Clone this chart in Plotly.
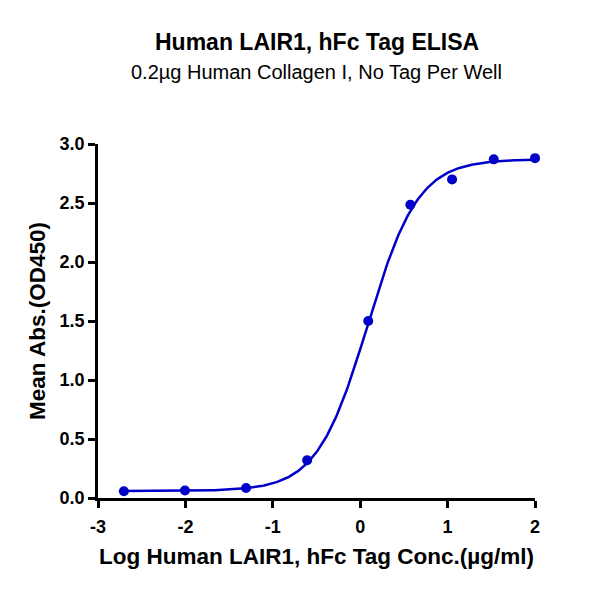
import numpy as np
import plotly.graph_objects as go

# ELISA dose-response, log concentration vs OD450
log_conc = [-2.704, -2.005, -1.306, -0.607, 0.092, 0.574, 1.051, 1.528, 2.0]
od450 = [0.057, 0.063, 0.085, 0.32, 1.50, 2.485, 2.70, 2.87, 2.88]

# 4PL fit parameters for the curve
fit_bottom = 0.06
fit_top = 2.87
fit_logec50 = 0.085
fit_hill = 1.5

x_ticks = [-3, -2, -1, 0, 1, 2]
y_ticks = [0.0, 0.5, 1.0, 1.5, 2.0, 2.5, 3.0]

blue = "#0000C8"
font = "Liberation Sans"

xfit = np.linspace(min(log_conc), max(log_conc), 300)
yfit = fit_bottom + (fit_top - fit_bottom) / (1 + 10 ** ((fit_logec50 - xfit) * fit_hill))

fig = go.Figure()
fig.add_trace(go.Scatter(x=xfit, y=yfit, mode="lines",
                         line=dict(color=blue, width=2.5), cliponaxis=False,
                         showlegend=False, hoverinfo="skip"))
fig.add_trace(go.Scatter(x=log_conc, y=od450, mode="markers",
                         marker=dict(color=blue, size=10), cliponaxis=False,
                         showlegend=False))

axis_common = dict(showgrid=False, zeroline=False, showline=True, linecolor="black",
                   linewidth=2.5, ticks="outside", tickwidth=2.5, ticklen=7,
                   tickcolor="black",
                   tickfont=dict(family=font, size=18, color="black", weight="bold"))

fig.update_xaxes(range=[-3, 2], tickvals=x_ticks, ticktext=[str(t) for t in x_ticks],
                 ticklabelstandoff=4,
                 title=dict(text="<b>Log Human LAIR1, hFc Tag Conc.(µg/ml)</b>",
                            font=dict(family=font, size=22.5, color="black"), standoff=12),
                 **axis_common)
fig.update_yaxes(range=[0, 3], tickvals=y_ticks, ticktext=[f"{t:.1f}" for t in y_ticks],
                 title=dict(text="<b>Mean Abs.(OD450)</b>",
                            font=dict(family=font, size=22.5, color="black"), standoff=8),
                 **axis_common)

# page body adds ~8px offset, so margins are shifted to compensate
top, bottom = 136, 110
fig.update_layout(
    width=600, height=600,
    margin=dict(l=90, r=73, t=top, b=bottom),
    plot_bgcolor="white", paper_bgcolor="white",
)
plot_h = 600 - top - bottom
titles = [("<b>Human LAIR1, hFc Tag ELISA</b>", 23, 34),
          ("0.2µg Human Collagen I, No Tag Per Well", 20, 64)]
for text, size, ypix in titles:
    fig.add_annotation(text=text, x=0.5,
                       y=(600 - bottom - ypix) / plot_h, xref="paper", yref="paper",
                       yanchor="middle", showarrow=False,
                       font=dict(family=font, size=size, color="black"))

fig.write_html("out.html")
